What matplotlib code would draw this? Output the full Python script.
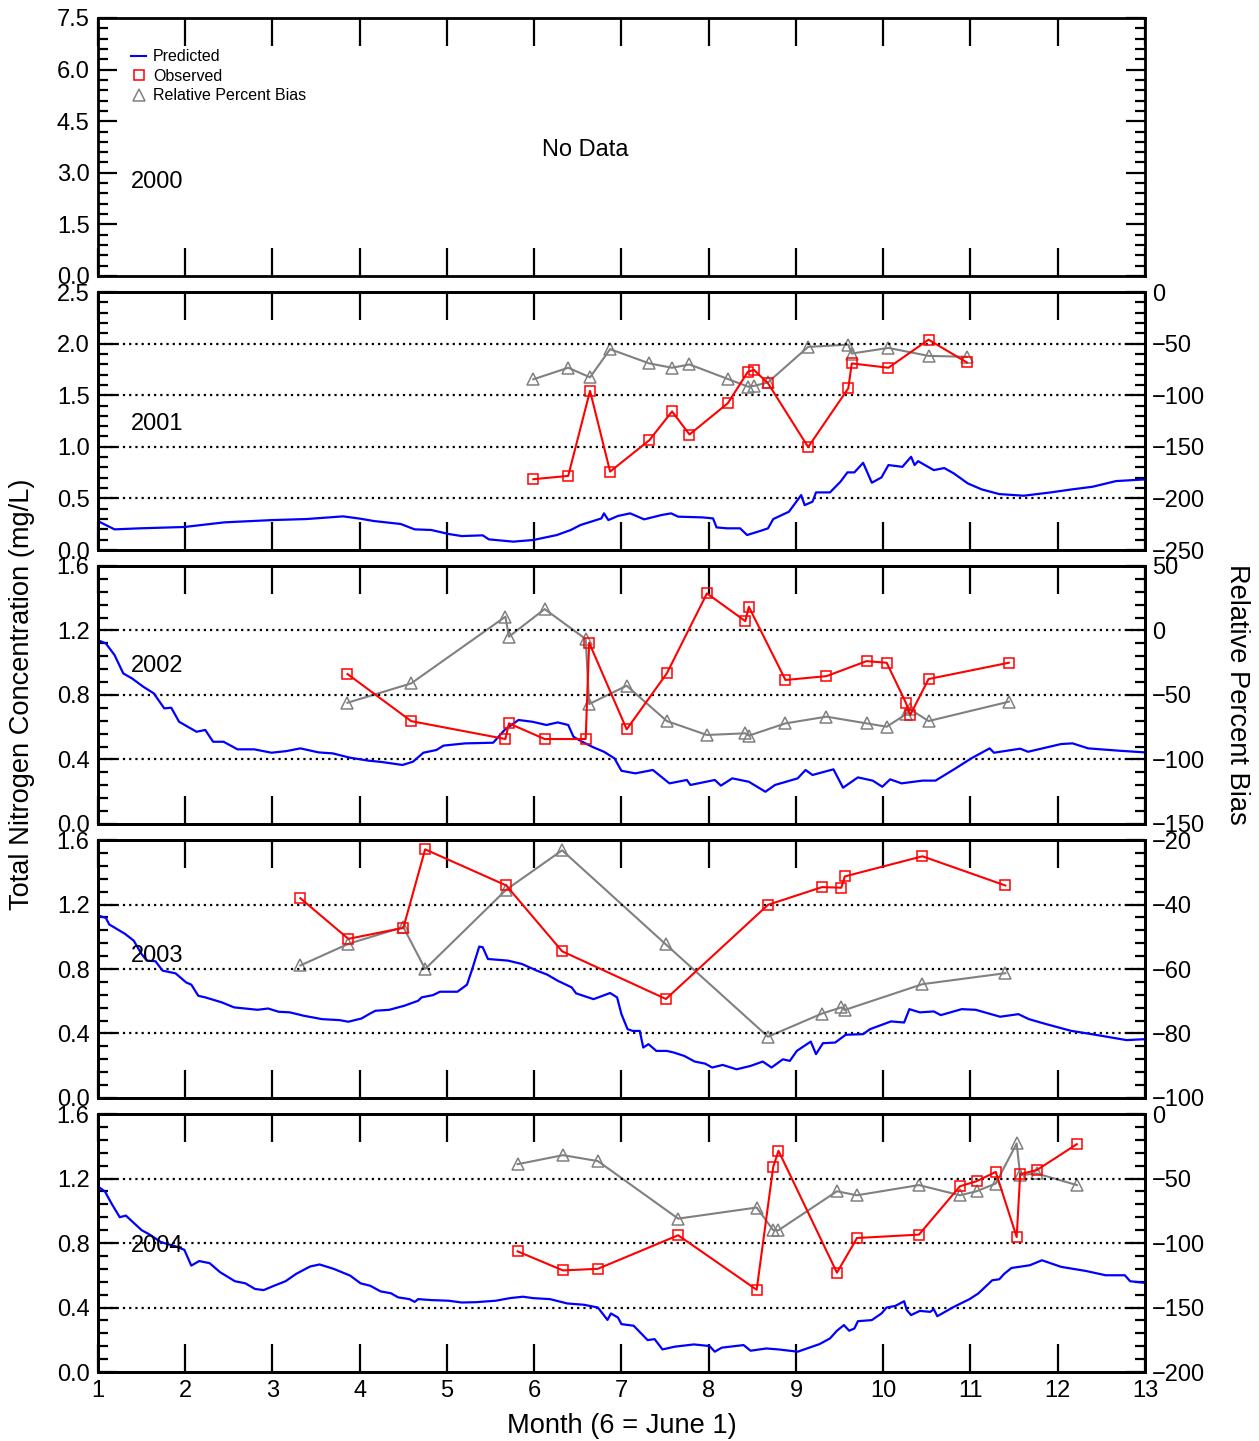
import matplotlib
matplotlib.use('Agg')
import matplotlib.pyplot as plt
from matplotlib.lines import Line2D
from matplotlib.ticker import MultipleLocator

plt.rcParams['font.family'] = ['Liberation Sans', 'DejaVu Sans']

# ---- daily predicted TN (mg/L), month as decimal (6 = June 1) ----
pred_x_2001 = [1.00, 1.19, 1.48, 1.99, 2.45, 3.00, 3.39, 3.81, 4.01, 4.16, 4.47, 4.63, 4.82, 5.02, 5.17,
               5.41, 5.48, 5.76, 5.99, 6.26, 6.42, 6.53, 6.77, 6.80, 6.85, 6.96, 7.10, 7.26, 7.46, 7.57,
               7.65, 7.93, 8.05, 8.09, 8.21, 8.36, 8.44, 8.60, 8.68, 8.74, 8.92, 9.06, 9.10, 9.19, 9.23,
               9.39, 9.51, 9.59, 9.67, 9.77, 9.87, 9.98, 10.06, 10.22, 10.32, 10.36, 10.40, 10.58, 10.70,
               10.81, 10.97, 11.13, 11.33, 11.61, 11.92, 12.16, 12.40, 12.67, 13.00]
pred_2001 = [0.28, 0.20, 0.21, 0.223, 0.268, 0.29, 0.30, 0.326, 0.303, 0.281, 0.252, 0.20, 0.194, 0.155, 0.135,
             0.142, 0.103, 0.081, 0.097, 0.145, 0.194, 0.242, 0.306, 0.355, 0.29, 0.33, 0.355, 0.297, 0.339, 0.355,
             0.323, 0.316, 0.306, 0.219, 0.21, 0.21, 0.145, 0.187, 0.21, 0.30, 0.371, 0.532, 0.435, 0.468, 0.558,
             0.558, 0.661, 0.752, 0.752, 0.845, 0.652, 0.703, 0.823, 0.806, 0.903, 0.823, 0.861, 0.774, 0.794,
             0.742, 0.645, 0.587, 0.542, 0.526, 0.558, 0.587, 0.613, 0.668, 0.684]

pred_x_2002 = [1.00, 1.09, 1.19, 1.29, 1.39, 1.52, 1.64, 1.76, 1.84, 1.93, 2.13, 2.23, 2.32, 2.44, 2.60,
               2.79, 2.99, 3.16, 3.32, 3.53, 3.69, 3.89, 4.10, 4.26, 4.49, 4.61, 4.73, 4.88, 4.96, 5.21,
               5.53, 5.66, 5.82, 5.98, 6.14, 6.27, 6.39, 6.45, 6.55, 6.68, 6.80, 6.92, 7.00, 7.16, 7.36,
               7.55, 7.75, 7.79, 8.07, 8.14, 8.27, 8.46, 8.65, 8.76, 9.02, 9.11, 9.19, 9.43, 9.54, 9.71,
               9.88, 9.99, 10.08, 10.21, 10.45, 10.60, 10.83, 11.01, 11.22, 11.27, 11.57, 11.66, 12.04,
               12.17, 12.35, 12.69, 13.00]
pred_2002 = [1.140, 1.12, 1.048, 0.934, 0.903, 0.851, 0.81, 0.717, 0.721, 0.634, 0.572, 0.583, 0.51, 0.51, 0.463,
             0.463, 0.442, 0.452, 0.469, 0.444, 0.438, 0.411, 0.393, 0.384, 0.366, 0.386, 0.442, 0.459, 0.486, 0.50,
             0.504, 0.583, 0.645, 0.634, 0.614, 0.630, 0.614, 0.541, 0.51, 0.475, 0.448, 0.407, 0.330, 0.314, 0.335,
             0.252, 0.273, 0.242, 0.273, 0.238, 0.283, 0.262, 0.20, 0.242, 0.283, 0.335, 0.304, 0.339, 0.225, 0.289,
             0.269, 0.231, 0.277, 0.252, 0.269, 0.269, 0.345, 0.407, 0.469, 0.442, 0.467, 0.448, 0.496,
             0.50, 0.469, 0.455, 0.444]

pred_x_2003 = [1.00, 1.09, 1.13, 1.31, 1.41, 1.50, 1.56, 1.66, 1.74, 1.89, 2.01, 2.07, 2.15, 2.23, 2.42,
               2.56, 2.83, 2.95, 3.07, 3.20, 3.36, 3.57, 3.77, 3.87, 4.02, 4.12, 4.18, 4.34, 4.51, 4.67,
               4.71, 4.84, 4.92, 5.12, 5.23, 5.29, 5.37, 5.41, 5.47, 5.70, 5.86, 6.03, 6.15, 6.27, 6.43,
               6.48, 6.68, 6.87, 6.95, 7.00, 7.07, 7.13, 7.21, 7.25, 7.31, 7.40, 7.52, 7.60, 7.72, 7.84,
               7.96, 8.04, 8.16, 8.32, 8.48, 8.62, 8.72, 8.85, 8.93, 9.01, 9.17, 9.23, 9.31, 9.45, 9.57,
               9.77, 9.85, 10.09, 10.24, 10.30, 10.42, 10.58, 10.66, 10.90, 11.06, 11.34, 11.55, 11.67,
               11.87, 12.15, 12.39, 12.79, 13.00]
pred_2003 = [1.132, 1.117, 1.076, 1.018, 0.976, 0.893, 0.852, 0.848, 0.79, 0.773, 0.717, 0.703, 0.634, 0.624, 0.593,
             0.562, 0.547, 0.555, 0.535, 0.531, 0.51, 0.489, 0.483, 0.473, 0.493, 0.524, 0.541, 0.547, 0.572, 0.603,
             0.624, 0.638, 0.659, 0.659, 0.703, 0.80, 0.939, 0.935, 0.862, 0.852, 0.831, 0.79, 0.765, 0.727, 0.686,
             0.649, 0.613, 0.651, 0.624, 0.52, 0.427, 0.416, 0.416, 0.313, 0.334, 0.292, 0.292, 0.282, 0.261, 0.226,
             0.213, 0.189, 0.205, 0.178, 0.199, 0.226, 0.189, 0.24, 0.23, 0.292, 0.35, 0.272, 0.34, 0.344, 0.392,
             0.396, 0.427, 0.475, 0.468, 0.551, 0.531, 0.537, 0.514, 0.551, 0.547, 0.504, 0.52, 0.489,
             0.458, 0.417, 0.396, 0.359, 0.365]

pred_x_2004 = [1.00, 1.08, 1.15, 1.25, 1.32, 1.42, 1.50, 1.60, 1.72, 1.89, 1.99, 2.07, 2.16, 2.28, 2.40,
               2.57, 2.69, 2.80, 2.90, 3.00, 3.15, 3.27, 3.43, 3.54, 3.70, 3.89, 4.01, 4.12, 4.24, 4.36,
               4.44, 4.57, 4.63, 4.67, 4.82, 5.02, 5.17, 5.33, 5.56, 5.72, 5.87, 5.99, 6.18, 6.38, 6.57,
               6.73, 6.84, 6.88, 6.96, 7.00, 7.14, 7.30, 7.38, 7.47, 7.61, 7.83, 8.01, 8.07, 8.15, 8.40,
               8.48, 8.66, 8.80, 9.02, 9.27, 9.39, 9.47, 9.55, 9.61, 9.67, 9.71, 9.87, 9.98, 10.04, 10.14,
               10.24, 10.27, 10.32, 10.42, 10.54, 10.58, 10.62, 10.81, 10.99, 11.09, 11.25, 11.33, 11.39,
               11.47, 11.68, 11.82, 12.04, 12.32, 12.55, 12.77, 12.83, 13.00]
pred_2004 = [1.15, 1.12, 1.05, 0.96, 0.97, 0.92, 0.88, 0.85, 0.806, 0.779, 0.758, 0.66, 0.688, 0.675, 0.619,
             0.563, 0.55, 0.515, 0.508, 0.531, 0.563, 0.608, 0.654, 0.667, 0.64, 0.598, 0.55, 0.535, 0.50, 0.488,
             0.463, 0.452, 0.435, 0.452, 0.446, 0.442, 0.431, 0.433, 0.442, 0.458, 0.467, 0.458, 0.452, 0.425, 0.417,
             0.40, 0.323, 0.363, 0.338, 0.297, 0.287, 0.198, 0.204, 0.14, 0.157, 0.171, 0.161, 0.126, 0.151, 0.167,
             0.132, 0.146, 0.14, 0.126, 0.173, 0.208, 0.256, 0.291, 0.256, 0.27, 0.315, 0.322, 0.363, 0.40, 0.41,
             0.439, 0.384, 0.353, 0.379, 0.373, 0.39, 0.346, 0.404, 0.452, 0.487, 0.569, 0.575, 0.61,
             0.645, 0.662, 0.693, 0.652, 0.627, 0.60, 0.60, 0.563, 0.553]

# ---- sampling dates, observed TN (mg/L) and relative percent bias (%) ----
obs_x_2001 = [5.99, 6.39, 6.64, 6.87, 7.32, 7.58, 7.78, 8.22, 8.45, 8.52, 8.68, 9.14, 9.60, 9.64, 10.06, 10.52, 10.96]
obs_2001 = [0.686, 0.718, 1.542, 0.760, 1.064, 1.343, 1.119, 1.423, 1.728, 1.744, 1.615, 0.997, 1.567, 1.808,
            1.766, 2.038, 1.817]
rpb_2001 = [-84.6, -73.4, -82.7, -55.4, -69.2, -73.4, -70.2, -84.3, -91.7, -91.0, -87.5, -53.2, -51.0, -59.6,
            -54.2, -61.9, -62.8]

obs_x_2002 = [3.86, 4.59, 5.67, 5.71, 6.12, 6.59, 6.63, 7.06, 7.52, 7.98, 8.42, 8.46, 8.88, 9.35, 9.81, 10.04,
              10.26, 10.31, 10.52, 11.44]
obs_2002 = [0.930, 0.638, 0.527, 0.624, 0.527, 0.527, 1.124, 0.587, 0.934, 1.430, 1.258, 1.347, 0.893, 0.917,
            1.010, 1.000, 0.752, 0.676, 0.899, 1.000]
rpb_2002 = [-56.0, -41.0, 10.7, -4.8, 16.6, -6.6, -57.0, -42.8, -70.2, -81.0, -79.7, -81.5, -72.0, -66.8,
            -72.0, -74.6, -65.0, -61.1, -70.2, -55.2]

obs_x_2003 = [3.32, 3.87, 4.50, 4.75, 5.68, 6.32, 7.51, 8.68, 9.30, 9.52, 9.56, 10.45, 11.40]
obs_2003 = [1.239, 0.987, 1.055, 1.542, 1.318, 0.910, 0.614, 1.198, 1.308, 1.304, 1.374, 1.499, 1.318]
rpb_2003 = [-58.9, -52.2, -47.0, -60.0, -35.4, -23.2, -52.4, -81.0, -73.8, -71.9, -72.7, -64.7, -61.3]

obs_x_2004 = [5.81, 6.33, 6.73, 7.65, 8.55, 8.74, 8.80, 9.47, 9.70, 10.41, 10.88, 11.07, 11.29, 11.53, 11.57,
              11.76, 12.22]
obs_2004 = [0.748, 0.630, 0.640, 0.848, 0.510, 1.273, 1.372, 0.616, 0.831, 0.852, 1.152, 1.183, 1.241, 0.837,
            1.227, 1.252, 1.413]
rpb_2004 = [-38.9, -31.9, -36.5, -81.1, -72.5, -90.1, -90.1, -59.9, -63.0, -55.1, -63.0, -59.9, -53.9, -22.8,
            -47.4, -46.1, -55.1]

years = ['2000', '2001', '2002', '2003', '2004']
pred_x = [None, pred_x_2001, pred_x_2002, pred_x_2003, pred_x_2004]
pred = [None, pred_2001, pred_2002, pred_2003, pred_2004]
obs_x = [None, obs_x_2001, obs_x_2002, obs_x_2003, obs_x_2004]
obs = [None, obs_2001, obs_2002, obs_2003, obs_2004]
rpb = [None, rpb_2001, rpb_2002, rpb_2003, rpb_2004]

# axis setup per panel: (top, major, minor) left; (low, high, major, minor) right
left_axis = [(7.5, 1.5, 0.3), (2.5, 0.5, 0.1), (1.6, 0.4, 0.08), (1.6, 0.4, 0.08), (1.6, 0.4, 0.08)]
right_axis = [None, (-250, 0, 50, 10), (-150, 50, 50, 10), (-100, -20, 20, 4), (-200, 0, 50, 10)]
year_y = [0.364, 0.488, 0.612, 0.550, 0.488]

BLUE = '#0000ff'
RED = '#ff0000'
GREY = '#808080'
FS = 17
LABEL_FS = 19.6

fig = plt.figure(figsize=(12.59, 14.41), dpi=100)
left, width, height = 0.0778, 0.8316, 0.17904
bottoms = [0.80847, 0.61832, 0.42818, 0.23803, 0.04788]


def style_ticks(a, which_axis, labelsize=FS, pad=6):
    a.tick_params(axis=which_axis, which='major', direction='in', length=14, width=1.6,
                  labelsize=labelsize, pad=pad)
    a.tick_params(axis=which_axis, which='minor', direction='in', length=7, width=1.6)


for i in range(5):
    ax = fig.add_axes([left, bottoms[i], width, height])
    top, major, minor = left_axis[i]
    ax.set_xlim(1, 13)
    ax.set_ylim(0, top)
    ax.set_xticks(range(1, 14))
    yt = [k * major for k in range(int(round(top / major)) + 1)]
    ax.set_yticks(yt)
    ax.set_yticklabels(['%.1f' % v for v in yt])
    ax.yaxis.set_minor_locator(MultipleLocator(minor))
    style_ticks(ax, 'y')
    ax.tick_params(axis='x', which='major', direction='in', length=20, width=1.6,
                   top=True, bottom=True, labelbottom=(i == 4), labelsize=FS, pad=6)
    for s in ax.spines.values():
        s.set_linewidth(2.0)

    ax.text(0.0315, year_y[i], years[i], transform=ax.transAxes, fontsize=FS,
            ha='left', va='center')

    if i == 0:
        ax.tick_params(axis='y', which='both', right=True)
        ax.text(0.465, 0.488, 'No Data', transform=ax.transAxes, fontsize=FS,
                ha='center', va='center')
        handles = [Line2D([], [], color=BLUE, lw=1.5),
                   Line2D([], [], color=RED, marker='s', ls='none', mfc='none', ms=7, mew=1.1),
                   Line2D([], [], color=GREY, marker='^', ls='none', mfc='none', ms=8, mew=1.1)]
        ax.legend(handles, ['Predicted', 'Observed', 'Relative Percent Bias'], loc='upper left',
                  bbox_to_anchor=(0.032, 0.878), frameon=False, fontsize=11.5, borderpad=0,
                  handlelength=0.9, handletextpad=0.45, labelspacing=0.27, borderaxespad=0)
        continue

    for g in yt[1:-1]:
        ax.axhline(g, color='black', lw=1.6, ls=(0, (1, 1.8)), zorder=1)

    tw = ax.twinx()
    lo, hi, rmaj, rmin = right_axis[i]
    tw.set_ylim(lo, hi)
    rt = list(range(lo, hi + 1, rmaj))
    tw.set_yticks(rt)
    tw.set_yticklabels([str(v).replace('-', '\u2212') for v in rt])
    tw.yaxis.set_minor_locator(MultipleLocator(rmin))
    style_ticks(tw, 'y', pad=5)
    for s in tw.spines.values():
        s.set_linewidth(2.0)

    tw.plot(obs_x[i], rpb[i], color=GREY, lw=1.5, marker='^', ms=8, mfc='none', mew=1.1, zorder=3)

    ax.plot(pred_x[i], pred[i], color=BLUE, lw=1.6, zorder=2)
    ax.plot(obs_x[i], obs[i], color=RED, lw=1.5, marker='s', ms=7, mfc='none', mew=1.1, zorder=3)
    ax.set_zorder(tw.get_zorder() + 1)
    ax.patch.set_visible(False)

fig.text(0.0175, 0.518, 'Total Nitrogen Concentration (mg/L)', rotation=90, fontsize=LABEL_FS,
         ha='center', va='center')
fig.text(0.9825, 0.518, 'Relative Percent Bias', rotation=270, fontsize=LABEL_FS,
         ha='center', va='center')
fig.text(0.4937, 0.0104, 'Month (6 = June 1)', fontsize=LABEL_FS, ha='center', va='center')

fig.savefig('out.png', dpi=100)
